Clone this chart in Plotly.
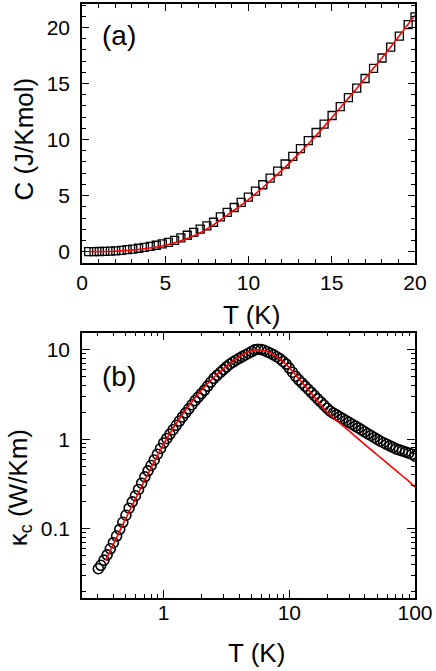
import plotly.graph_objects as go

# ---------------- panel (a): specific heat ----------------
T_c = [0.4, 0.72, 1.04, 1.37, 1.7, 2.03, 2.37, 2.71, 3.05, 3.4, 3.75, 4.1, 4.46, 4.82,
       5.19, 5.56, 5.94, 6.32, 6.71, 7.1, 7.5, 7.9, 8.31, 8.72, 9.14, 9.56, 9.99, 10.42,
       10.86, 11.3, 11.75, 12.2, 12.66, 13.12, 13.59, 14.06, 14.54, 15.02, 15.51, 16.0,
       16.5, 17.0, 17.51, 18.02, 18.54, 19.06, 19.59, 20.0]
C_data = [0.0, 0.0, 0.01, 0.02, 0.04, 0.07, 0.11, 0.17, 0.23, 0.30, 0.38, 0.46, 0.57, 0.69,
          0.83, 1.00, 1.22, 1.46, 1.72, 2.0, 2.3, 2.62, 3.10, 3.51, 3.94, 4.39, 4.86, 5.40,
          5.97, 6.56, 7.18, 7.82, 8.50, 9.19, 9.90, 10.63, 11.38, 12.15, 12.94, 13.75,
          14.59, 15.45, 16.35, 17.28, 18.25, 19.24, 20.26, 20.95]
T_cfit = [0.5, 1, 2, 3, 4, 5, 6, 7, 8, 9, 10, 11, 12, 13, 14, 15, 16, 17, 18, 19, 20]
C_fit = [0.0, 0.005, 0.04, 0.13, 0.3, 0.57, 1.0, 1.6, 2.5, 3.55, 4.65, 5.9, 7.25, 8.7,
         10.25, 11.95, 13.7, 15.45, 17.25, 19.15, 21.1]

# ---------------- panel (b): thermal conductivity ----------------
T_k = [0.302, 0.316, 0.335, 0.355, 0.376, 0.398, 0.422, 0.447, 0.473, 0.501, 0.531, 0.562,
       0.596, 0.631, 0.668, 0.708, 0.750, 0.794, 0.841, 0.891, 0.944, 1.0, 1.059, 1.122,
       1.189, 1.259, 1.334, 1.413, 1.496, 1.585, 1.679, 1.778, 1.884, 1.995, 2.113, 2.239,
       2.371, 2.512, 2.661, 2.818, 2.985, 3.162, 3.350, 3.548, 3.758, 3.981, 4.217, 4.467,
       4.732, 5.012, 5.309, 5.623, 5.957, 6.310, 6.683, 7.079, 7.499, 7.943, 8.414, 8.913,
       9.441, 10.0, 10.59, 11.22, 11.89, 12.59, 13.34, 14.13, 14.96, 15.85, 16.79, 17.78,
       18.84, 19.95, 21.13, 22.39, 23.71, 25.12, 26.61, 28.18, 29.85, 31.62, 33.50, 35.48,
       37.58, 39.81, 42.17, 44.67, 47.32, 50.12, 53.09, 56.23, 59.57, 63.10, 66.83, 70.79,
       74.99, 79.43, 84.14, 89.13, 94.41, 100.0]
k_data = [0.0355, 0.0388, 0.0443, 0.0508, 0.0594, 0.0695, 0.0824, 0.098, 0.1175, 0.141,
          0.169, 0.199, 0.233, 0.274, 0.322, 0.379, 0.442, 0.508, 0.586, 0.679, 0.787,
          0.908, 1.019, 1.14, 1.277, 1.43, 1.596, 1.775, 1.972, 2.19, 2.43, 2.70, 2.96,
          3.24, 3.54, 3.93, 4.36, 4.80, 5.18, 5.58, 6.01, 6.44, 6.90, 7.27, 7.66, 8.03,
          8.39, 8.77, 9.16, 9.57, 10.0, 10.16, 10.07, 9.88, 9.51, 9.16, 8.79, 8.37, 7.96,
          7.41, 6.92, 6.24, 5.61, 5.05, 4.62, 4.26, 3.93, 3.62, 3.34, 3.08, 2.83, 2.61,
          2.41, 2.22, 2.06, 1.96, 1.87, 1.78, 1.70, 1.62, 1.545, 1.47, 1.40, 1.34, 1.27,
          1.21, 1.15, 1.10, 1.045, 0.995, 0.948, 0.912, 0.877, 0.843, 0.811, 0.780, 0.759,
          0.739, 0.719, 0.700, 0.679, 0.645]
T_kfit = [0.345, 0.4, 0.5, 0.6, 0.7, 0.8, 0.9, 1.0, 1.2, 1.5, 2.0, 2.5, 3.0, 3.5, 4.0,
          4.5, 5.0, 5.5, 6.0, 6.5, 7.0, 8.0, 9.0, 10, 12, 15, 20, 25, 30, 40, 50, 60, 70,
          80, 90, 100]
k_fit = [0.044, 0.0678, 0.130, 0.219, 0.339, 0.490, 0.671, 0.881, 1.35, 2.14, 3.54, 4.9,
         6.2, 7.4, 8.4, 9.2, 9.75, 10.0, 9.95, 9.7, 9.3, 8.3, 7.3, 6.3, 4.7, 3.25, 2.0,
         1.53, 1.23, 0.87, 0.67, 0.54, 0.45, 0.385, 0.335, 0.29]

xa_ticks = [0, 5, 10, 15, 20]
ya_ticks = [0, 5, 10, 15, 20]
xb_ticks = [1, 10, 100]
xb_labels = ["1", "10", "100"]
yb_ticks = [0.1, 1, 10]
yb_labels = ["0.1", "1", "10"]
xb_minor = [0.3, 0.4, 0.5, 0.6, 0.7, 0.8, 0.9, 2, 3, 4, 5, 6, 7, 8, 9,
            20, 30, 40, 50, 60, 70, 80, 90]
yb_minor = [0.02, 0.03, 0.04, 0.05, 0.06, 0.07, 0.08, 0.09, 0.2, 0.3, 0.4, 0.5, 0.6,
            0.7, 0.8, 0.9, 2, 3, 4, 5, 6, 7, 8, 9]

W, H = 436, 671
L, R, TOP, BOT = 82, 415, 2, 598


def px_x(X):
    return (X - L) / (R - L)


def px_y(Y):
    return (BOT - Y) / (BOT - TOP)


FONT = "Liberation Sans, Arial, sans-serif"

fig = go.Figure()
fig.add_trace(go.Scatter(x=T_c, y=C_data, mode="markers", xaxis="x", yaxis="y",
                         marker=dict(symbol="square-open", size=8, color="black",
                                     line=dict(width=1.3, color="black")),
                         showlegend=False))
fig.add_trace(go.Scatter(x=T_cfit, y=C_fit, mode="lines", xaxis="x", yaxis="y",
                         line=dict(color="#ff0000", width=1.6, shape="spline"),
                         showlegend=False))
fig.add_trace(go.Scatter(x=T_k, y=k_data, mode="markers", xaxis="x2", yaxis="y2",
                         marker=dict(symbol="circle-open", size=10, color="black",
                                     line=dict(width=1.6, color="black")),
                         showlegend=False))
fig.add_trace(go.Scatter(x=T_kfit, y=k_fit, mode="lines", xaxis="x2", yaxis="y2",
                         line=dict(color="#ff0000", width=1.6, shape="spline"),
                         showlegend=False))

common = dict(showline=True, linecolor="black", linewidth=1.5, mirror="allticks",
              ticks="inside", tickcolor="black", tickwidth=1.3, showgrid=False,
              zeroline=False, tickfont=dict(family=FONT, size=21, color="black"))

fig.update_layout(
    width=W, height=H,
    margin=dict(l=L, r=W - R, t=TOP, b=H - BOT),
    plot_bgcolor="white", paper_bgcolor="white",
    xaxis=dict(common, domain=[0, 1], anchor="y", range=[0, 20],
               tickvals=xa_ticks, ticklen=7, ticklabelstandoff=0,
               minor=dict(ticks="inside", dtick=1, ticklen=4, tickcolor="black",
                          tickwidth=1.2, showgrid=False)),
    yaxis=dict(common, domain=[px_y(261.7), 1], anchor="x", range=[-1.0, 22.1],
               tickvals=ya_ticks, ticklen=7, ticklabelstandoff=6,
               minor=dict(ticks="inside", dtick=1, ticklen=4, tickcolor="black",
                          tickwidth=1.2, showgrid=False)),
    xaxis2=dict(common, domain=[0, 1], anchor="y2", type="log", range=[-0.65, 2.0],
                tickvals=xb_ticks, ticktext=xb_labels, ticklen=8, ticklabelstandoff=-5,
                minor=dict(ticks="inside", tickvals=xb_minor, ticklen=4,
                           tickcolor="black", tickwidth=1.2, showgrid=False)),
    yaxis2=dict(common, domain=[0, px_y(331.7)], anchor="x2", type="log",
                range=[-1.777, 1.193],
                tickvals=yb_ticks, ticktext=yb_labels, ticklen=8, ticklabelstandoff=6,
                minor=dict(ticks="inside", tickvals=yb_minor, ticklen=4,
                           tickcolor="black", tickwidth=1.2, showgrid=False)),
)

ann_font = dict(family=FONT, size=26, color="black")
lab_font = dict(family=FONT, size=28, color="black")
fig.add_annotation(text="(a)", x=px_x(119), y=px_y(34), xref="paper", yref="paper",
                   showarrow=False, font=lab_font, xanchor="center", yanchor="middle")
fig.add_annotation(text="(b)", x=px_x(119), y=px_y(376), xref="paper", yref="paper",
                   showarrow=False, font=lab_font, xanchor="center", yanchor="middle")
fig.add_annotation(text="T (K)", x=px_x(251), y=px_y(314), xref="paper", yref="paper",
                   showarrow=False, font=ann_font, xanchor="center", yanchor="middle")
fig.add_annotation(text="T (K)", x=px_x(256), y=px_y(653), xref="paper", yref="paper",
                   showarrow=False, font=ann_font, xanchor="center", yanchor="middle")
fig.add_annotation(text="C (J/Kmol)", x=px_x(24), y=px_y(138), xref="paper", yref="paper",
                   showarrow=False, font=ann_font, textangle=-90,
                   xanchor="center", yanchor="middle")
fig.add_annotation(text="κ<sub>c</sub> (W/Km)", x=px_x(19), y=px_y(488), xref="paper",
                   yref="paper", showarrow=False, font=ann_font, textangle=-90,
                   xanchor="center", yanchor="middle")

fig.write_html("out.html",
               config={"displayModeBar": False},
               post_script="document.body.style.margin='0';"
                           "document.body.style.overflow='hidden';")
